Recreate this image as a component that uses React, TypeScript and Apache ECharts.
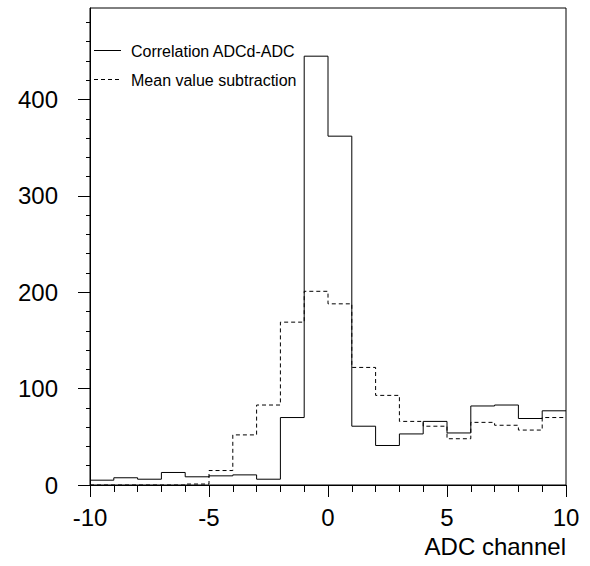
import React, { useEffect, useRef } from "react";
import * as echarts from "echarts";

const binEdges: number[] = [-10, -9, -8, -7, -6, -5, -4, -3, -2, -1, 0, 1, 2, 3, 4, 5, 6, 7, 8, 9, 10];
const correlationCounts: number[] = [5, 7.5, 6, 13, 8.5, 9.5, 10.5, 6, 70, 445, 362, 61, 41, 53, 66, 54, 82, 83, 69, 77];
const meanSubCounts: number[] = [0, 0, 0, 0, 1, 15, 52, 83, 169, 201, 188, 122, 93, 66, 61, 48, 65, 62, 57, 70];
const yMajorTicks: number[] = [0, 100, 200, 300, 400];
const yMinorTicks: number[] = [20, 40, 60, 80, 120, 140, 160, 180, 220, 240, 260, 280, 320, 340, 360, 380, 420, 440, 460, 480];
const legendNames: string[] = ["Correlation ADCd-ADC", "Mean value subtraction"];
const xTitle = "ADC channel";

const FONT = "'Liberation Sans', Arial, Helvetica, sans-serif";

function stepData(values: number[]): number[][] {
  const pts: number[][] = values.map((v, i) => [binEdges[i], v]);
  pts.push([binEdges[binEdges.length - 1], values[values.length - 1]]);
  return pts;
}

export default function App() {
  const ref = useRef<HTMLDivElement>(null);
  useEffect(() => {
    if (!ref.current) return;
    const chart = echarts.init(ref.current, null, { renderer: "svg" });
    const gridLeft = 90, gridTop = 8, gridRight = 24, gridBottom = 81;
    chart.setOption({
      animation: false,
      backgroundColor: "#fff",
      grid: {
        left: gridLeft, top: gridTop, right: gridRight, bottom: gridBottom,
        show: true, borderColor: "#000", borderWidth: 1, backgroundColor: "transparent",
      },
      xAxis: {
        type: "value", min: -10, max: 10, interval: 5,
        axisLine: { show: true, onZero: false, lineStyle: { color: "#000", width: 1 } },
        axisTick: { show: true, length: 12, lineStyle: { color: "#000", width: 1 } },
        minorTick: { show: true, splitNumber: 5, length: 7, lineStyle: { color: "#000", width: 1 } },
        axisLabel: { color: "#000", fontSize: 24, fontFamily: FONT, margin: 22, lineHeight: 20 },
        splitLine: { show: false },
      },
      yAxis: [
        {
          type: "value", min: 0, max: 495, interval: 100, position: "left",
          axisLine: { show: true, onZero: false, lineStyle: { color: "#000", width: 1 } },
          axisTick: { show: true, length: 12, customValues: yMajorTicks, lineStyle: { color: "#000", width: 1 } },
          axisLabel: { color: "#000", fontSize: 24, fontFamily: FONT, margin: 32, customValues: yMajorTicks },
          splitLine: { show: false },
        },
        {
          type: "value", min: 0, max: 495, interval: 100, position: "left", offset: 0,
          axisLine: { show: false, onZero: false },
          axisTick: { show: true, length: 4, customValues: yMinorTicks, lineStyle: { color: "#000", width: 1 } },
          axisLabel: { show: false },
          splitLine: { show: false },
        },
      ],
      series: [
        {
          name: legendNames[0], type: "line", step: "end", symbol: "none",
          data: stepData(correlationCounts), yAxisIndex: 0,
          lineStyle: { color: "#000", width: 1, type: "solid" },
        },
        {
          name: legendNames[1], type: "line", step: "end", symbol: "none",
          data: stepData(meanSubCounts), yAxisIndex: 0,
          lineStyle: { color: "#000", width: 1, type: [4, 3] },
        },
      ],
      graphic: [
        { type: "line", shape: { x1: 94, y1: 50.5, x2: 121, y2: 50.5 }, style: { stroke: "#000", lineWidth: 1 } },
        { type: "line", shape: { x1: 94, y1: 79.5, x2: 121, y2: 79.5 }, style: { stroke: "#000", lineWidth: 1, lineDash: [4, 3] } },
        { type: "text", x: 131, y: 51, style: { text: legendNames[0], fontSize: 16, fontFamily: FONT, fill: "#000", verticalAlign: "middle", align: "left" } },
        { type: "text", x: 131, y: 80, style: { text: legendNames[1], fontSize: 16, fontFamily: FONT, fill: "#000", verticalAlign: "middle", align: "left" } },
        { type: "text", x: 566, y: 546, style: { text: xTitle, fontSize: 24, lineHeight: 18, fontFamily: FONT, fill: "#000", verticalAlign: "middle", align: "right" } },
      ],
    });
    return () => chart.dispose();
  }, []);
  return <div ref={ref} style={{ position: "absolute", left: 0, top: 0, width: 590, height: 566 }} />;
}
